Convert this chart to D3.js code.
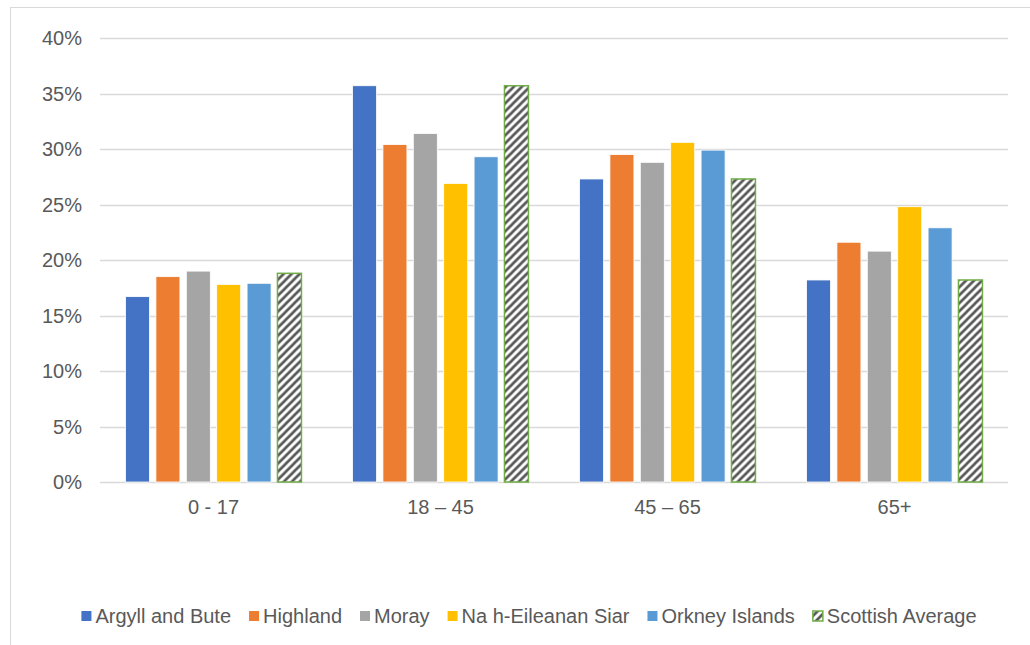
<!DOCTYPE html>
<html>
<head>
<meta charset="utf-8">
<script src="https://cdn.jsdelivr.net/npm/d3@7"></script>
<style>
  body { margin: 0; background: #fff; }
  svg { display: block; font-family: "Liberation Sans", Arial, sans-serif; }
  .tick-label { fill: #595959; font-size: 20px; }
</style>
</head>
<body>
<svg id="chart" width="1030" height="645"></svg>
<script>
// age groups along the x axis
const categories = ['0 - 17', '18 – 45', '45 – 65', '65+'];
const seriesNames = ['Argyll and Bute', 'Highland', 'Moray', 'Na h-Eileanan Siar', 'Orkney Islands', 'Scottish Average'];
const seriesColors = ['#4472C4', '#ED7D31', '#A5A5A5', '#FFC000', '#5B9BD5', 'url(#hatch)'];

// share of population per age group (fractions)
const argyll = [0.167, 0.357, 0.273, 0.182];
const highland = [0.185, 0.304, 0.295, 0.216];
const moray = [0.190, 0.314, 0.288, 0.208];
const naHEileanan = [0.178, 0.269, 0.306, 0.248];
const orkney = [0.179, 0.293, 0.299, 0.229];
const scottishAvg = [0.188, 0.357, 0.273, 0.182];
const seriesValues = [argyll, highland, moray, naHEileanan, orkney, scottishAvg];

const yTicks = [0, 0.05, 0.10, 0.15, 0.20, 0.25, 0.30, 0.35, 0.40];

const svg = d3.select('#chart');

// hatch pattern for the Scottish average
const defs = svg.append('defs');
const pat = defs.append('pattern')
    .attr('id', 'hatch')
    .attr('patternUnits', 'userSpaceOnUse')
    .attr('width', 8)
    .attr('height', 8);
pat.append('rect').attr('width', 8).attr('height', 8).attr('fill', '#fff');
pat.append('path')
    .attr('d', 'M-2,2 L2,-2 M0,8 L8,0 M6,10 L10,6')
    .attr('stroke', '#595959')
    .attr('stroke-width', 2.7);

// outer chart frame
svg.append('rect')
    .attr('x', 10.5).attr('y', 7.5)
    .attr('width', 1040).attr('height', 660)
    .attr('fill', '#fff')
    .attr('stroke', '#D9D9D9');

const plotLeft = 100, plotRight = 1008, plotTop = 38, plotBottom = 482;

const y = d3.scaleLinear().domain([0, 0.4]).range([plotBottom, plotTop]);
const x0 = d3.scaleBand().domain(categories).range([plotLeft, plotRight])
    .paddingInner(0.225).paddingOuter(0.1125);
const x1 = d3.scaleBand().domain(seriesNames).range([0, x0.bandwidth()])
    .paddingInner(0.21).paddingOuter(0);

// gridlines
svg.append('g')
    .selectAll('line')
    .data(yTicks)
    .join('line')
    .attr('x1', plotLeft).attr('x2', plotRight)
    .attr('y1', d => Math.round(y(d)) + 0.5)
    .attr('y2', d => Math.round(y(d)) + 0.5)
    .attr('stroke', '#D9D9D9')
    .attr('stroke-width', 1.5);

// y tick labels
svg.append('g')
    .selectAll('text')
    .data(yTicks)
    .join('text')
    .attr('class', 'tick-label')
    .attr('x', 82)
    .attr('y', d => y(d))
    .attr('dy', '0.35em')
    .attr('text-anchor', 'end')
    .text(d => d3.format('.0%')(d));

// bars
const groups = svg.append('g')
    .selectAll('g')
    .data(categories)
    .join('g')
    .attr('transform', d => `translate(${x0(d)},0)`);

groups.selectAll('rect')
    .data((c, ci) => seriesNames.map((s, si) => ({ s, si, v: seriesValues[si][ci] })))
    .join('rect')
    .attr('x', d => x1(d.s))
    .attr('width', x1.bandwidth())
    .attr('y', d => y(d.v))
    .attr('height', d => y(0) - y(d.v))
    .attr('fill', d => seriesColors[d.si])
    .attr('stroke', d => d.si === 5 ? '#70AD47' : '#fff')
    .attr('stroke-width', d => d.si === 5 ? 1.5 : 0.8);

// category labels
svg.append('g')
    .selectAll('text')
    .data(categories)
    .join('text')
    .attr('class', 'tick-label')
    .attr('x', d => x0(d) + x0.bandwidth() / 2)
    .attr('y', 507)
    .attr('dy', '0.35em')
    .attr('text-anchor', 'middle')
    .text(d => d);

// legend
const legend = svg.append('g');
const items = legend.selectAll('g')
    .data(seriesNames)
    .join('g');
items.append('rect')
    .attr('width', 10).attr('height', 10)
    .attr('y', 611)
    .attr('fill', (d, i) => seriesColors[i])
    .attr('stroke', (d, i) => i === 5 ? '#70AD47' : 'none')
    .attr('stroke-width', 1.5);
items.append('text')
    .attr('class', 'tick-label')
    .attr('x', 14)
    .attr('y', 616)
    .attr('dy', '0.35em')
    .text(d => d);

const widths = [];
items.each(function () {
    widths.push(14 + d3.select(this).select('text').node().getComputedTextLength());
});
const gap = 18;
const total = d3.sum(widths) + gap * (widths.length - 1);
let cx = 529 - total / 2;
items.each(function (d, i) {
    d3.select(this).attr('transform', `translate(${cx},0)`);
    d3.select(this).select('rect').attr('x', 0);
    cx += widths[i] + gap;
});
</script>
</body>
</html>
